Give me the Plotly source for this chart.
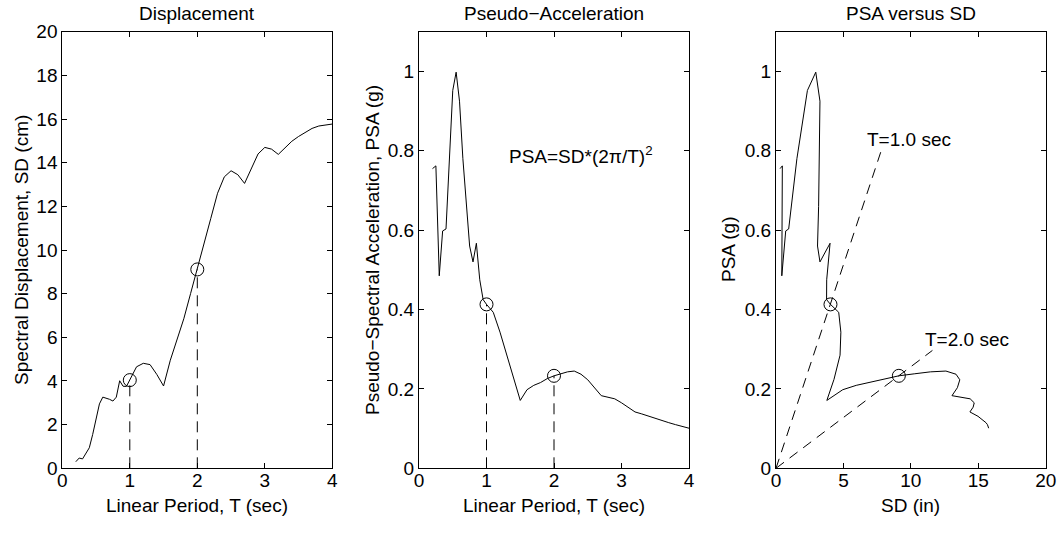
import plotly.graph_objects as go

# ---- data ----
T = [0.20, 0.25, 0.30, 0.35, 0.40, 0.45, 0.50, 0.55, 0.60, 0.65, 0.70, 0.75, 0.80, 0.85, 0.90, 0.95, 1.00,
     1.10, 1.20, 1.30, 1.40, 1.50, 1.60, 1.70, 1.80, 1.90, 2.00,
     2.10, 2.20, 2.30, 2.40, 2.50, 2.60, 2.70, 2.80, 2.90, 3.00,
     3.10, 3.20, 3.30, 3.40, 3.50, 3.60, 3.70, 3.80, 3.90, 4.00]
SD = [0.30, 0.47, 0.43, 0.72, 0.94, 1.55, 2.33, 2.95, 3.26, 3.22, 3.16, 3.08, 3.26, 4.01, 3.76, 3.75, 4.04,
      4.65, 4.81, 4.75, 4.30, 3.77, 4.95, 5.95, 6.85, 8.00, 9.11,
      10.25, 11.45, 12.60, 13.35, 13.63, 13.45, 13.05, 13.75, 14.40, 14.70,
      14.62, 14.38, 14.70, 14.98, 15.20, 15.40, 15.57, 15.68, 15.74, 15.77]
PSA = [0.755, 0.762, 0.485, 0.598, 0.603, 0.78, 0.952, 0.998, 0.925, 0.78, 0.66, 0.56, 0.52, 0.567, 0.475, 0.425, 0.413,
       0.393, 0.343, 0.285, 0.224, 0.171, 0.198, 0.209, 0.216, 0.226, 0.233,
       0.238, 0.243, 0.245, 0.237, 0.223, 0.203, 0.183, 0.179, 0.175, 0.165,
       0.154, 0.142, 0.137, 0.131, 0.125, 0.120, 0.115, 0.110, 0.106, 0.101]

mark_T = [1.0, 2.0]
mark_SD = [4.04, 9.11]
mark_PSA = [0.413, 0.233]

guide_SD_end = [7.8, 11.6]
guide_PSA_end = [0.80, 0.297]
guide_labels = ["T=1.0 sec", "T=2.0 sec"]

titles = ["Displacement", "Pseudo\u2212Acceleration", "PSA versus SD"]
xtitles = ["Linear Period, T (sec)", "Linear Period, T (sec)", "SD (in)"]
ytitles = ["Spectral Displacement, SD (cm)", "Pseudo\u2212Spectral Acceleration, PSA (g)", "PSA (g)"]

# ---- figure ----
W, H = 1063, 550
FONT = "Liberation Sans, Arial, Helvetica, sans-serif"
FS = 19

def px_x(p):
    return p / W

def px_y(p):
    return 1 - p / H

xdom = [[px_x(62.3), px_x(332.3)], [px_x(419.0), px_x(689.0)], [px_x(776.0), px_x(1045.7)]]
ydom = [px_y(468.3), px_y(31.7)]

fig = go.Figure()

line_style = dict(color="black", width=1)
dash_style = dict(color="black", width=1, dash="11px,7px")
marker_style = dict(symbol="circle-open", size=13, color="black", line=dict(width=1, color="black"))

# Panel 1
vx, vy = [], []
for t, s in zip(mark_T, mark_SD):
    vx += [t, t, None]
    vy += [0, s, None]
fig.add_trace(go.Scatter(x=vx, y=vy, mode="lines", line=dash_style, xaxis="x", yaxis="y", hoverinfo="skip"))
fig.add_trace(go.Scatter(x=T, y=SD, mode="lines", line=line_style, xaxis="x", yaxis="y"))
fig.add_trace(go.Scatter(x=mark_T, y=mark_SD, mode="markers", marker=marker_style, xaxis="x", yaxis="y"))

# Panel 2
vx, vy = [], []
for t, a in zip(mark_T, mark_PSA):
    vx += [t, t, None]
    vy += [0, a, None]
fig.add_trace(go.Scatter(x=vx, y=vy, mode="lines", line=dash_style, xaxis="x2", yaxis="y2", hoverinfo="skip"))
fig.add_trace(go.Scatter(x=T, y=PSA, mode="lines", line=line_style, xaxis="x2", yaxis="y2"))
fig.add_trace(go.Scatter(x=mark_T, y=mark_PSA, mode="markers", marker=marker_style, xaxis="x2", yaxis="y2"))

# Panel 3
gx, gy = [], []
for s, a in zip(guide_SD_end, guide_PSA_end):
    gx += [0, s, None]
    gy += [0, a, None]
fig.add_trace(go.Scatter(x=gx, y=gy, mode="lines", line=dict(color="black", width=1, dash="10px,7px"),
                         xaxis="x3", yaxis="y3", hoverinfo="skip"))
fig.add_trace(go.Scatter(x=SD, y=PSA, mode="lines", line=line_style, xaxis="x3", yaxis="y3"))
fig.add_trace(go.Scatter(x=mark_SD, y=mark_PSA, mode="markers", marker=marker_style, xaxis="x3", yaxis="y3"))

def ax(domain, rng, dtick, anchor, tickvals=None, ticktext=None, standoff=0):
    d = dict(domain=domain, range=rng, anchor=anchor, showgrid=False, zeroline=False,
             showline=True, linecolor="black", linewidth=1, mirror="ticks",
             ticks="inside", ticklen=5, tickwidth=1, tickcolor="black", automargin=False,
             ticklabelstandoff=standoff,
             tickfont=dict(family=FONT, size=FS, color="black"), fixedrange=True)
    if tickvals is not None:
        d.update(tickmode="array", tickvals=tickvals, ticktext=ticktext)
    else:
        d.update(tickmode="linear", tick0=0, dtick=dtick)
    return d

psa_ticks = [0, 0.2, 0.4, 0.6, 0.8, 1.0]
psa_text = ["0", "0.2", "0.4", "0.6", "0.8", "1"]

fig.update_layout(
    template="none",
    width=W, height=H, margin=dict(l=0, r=0, t=0, b=0, pad=0),
    paper_bgcolor="white", plot_bgcolor="white", showlegend=False,
    font=dict(family=FONT, size=FS, color="black"),
    xaxis=ax(xdom[0], [0, 4], 1, "y", standoff=-5),
    yaxis=ax(ydom, [0, 20], 2, "x"),
    xaxis2=ax(xdom[1], [0, 4], 1, "y2", standoff=-5),
    yaxis2=ax(ydom, [0, 1.1], None, "x2", psa_ticks, psa_text),
    xaxis3=ax(xdom[2], [0, 20], 5, "y3", standoff=-5),
    yaxis3=ax(ydom, [0, 1.1], None, "x3", psa_ticks, psa_text),
)

ann = []
centers = [(d[0] + d[1]) / 2 for d in xdom]
ytitle_x = [21, 372, 728]
for i in range(3):
    ann.append(dict(text=titles[i], x=centers[i], y=px_y(13), xref="paper", yref="paper",
                    xanchor="center", yanchor="middle", showarrow=False,
                    font=dict(family=FONT, size=FS, color="black")))
    ann.append(dict(text=xtitles[i], x=centers[i], y=px_y(505), xref="paper", yref="paper",
                    xanchor="center", yanchor="middle", showarrow=False,
                    font=dict(family=FONT, size=FS, color="black")))
    ann.append(dict(text=ytitles[i], x=px_x(ytitle_x[i]), y=px_y(250), xref="paper", yref="paper",
                    xanchor="center", yanchor="middle", showarrow=False, textangle=-90,
                    font=dict(family=FONT, size=FS, color="black")))

ann.append(dict(text="PSA=SD*(2\u03c0/T)<sup>2</sup>", x=1.3, y=0.79, xref="x2", yref="y2",
                xanchor="left", yanchor="middle", showarrow=False,
                font=dict(family=FONT, size=FS, color="black")))
label_pos = [(6.6, 0.828), (10.9, 0.324)]
for (lx, ly), lab in zip(label_pos, guide_labels):
    ann.append(dict(text=lab, x=lx, y=ly, xref="x3", yref="y3", xanchor="left", yanchor="middle",
                    showarrow=False, font=dict(family=FONT, size=FS, color="black")))

fig.update_layout(annotations=ann)

fig.write_html("out.html")
